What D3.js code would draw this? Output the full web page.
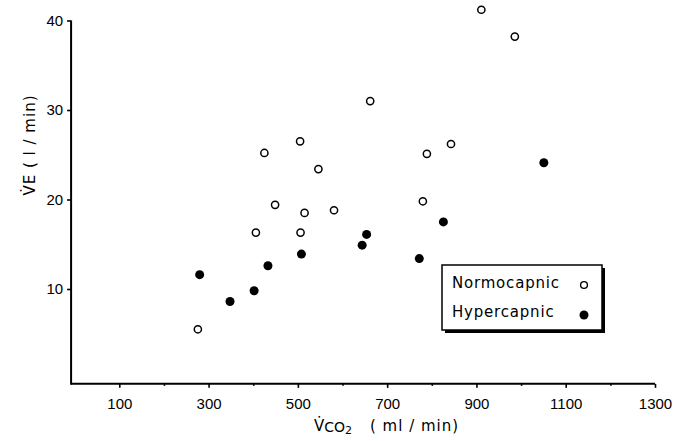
<!DOCTYPE html>
<html>
<head>
<meta charset="utf-8">
<script src="https://cdn.jsdelivr.net/npm/d3@7"></script>
<style>
  body { margin: 0; background: #fff; }
  svg { display: block; }
  .tick text { font-family: "Liberation Sans", Arial, sans-serif; font-size: 15px; fill: #000; }
  .lbl { font-family: "DejaVu Sans", sans-serif; font-size: 15px; fill: #000; }
</style>
</head>
<body>
<div id="chart"></div>
<script>
// VCO2 (ml/min) and VE (l/min)
var normoVco2 = [662, 505, 425, 546, 449, 515, 581, 406, 506, 276, 780, 911, 986, 843, 789]
var normoVe   = [31.0, 26.5, 25.2, 23.4, 19.4, 18.5, 18.8, 16.3, 16.3, 5.5, 19.8, 41.2, 38.2, 26.2, 25.1]
var hyperVco2 = [654, 644, 508, 433, 280, 402, 348, 826, 772, 1051]
var hyperVe   = [16.1, 14.9, 13.9, 12.6, 11.6, 9.8, 8.6, 17.5, 13.4, 24.1]

var xMajor = [100, 300, 500, 700, 900, 1100, 1300]
var xMinor = [200, 400, 600, 800, 1000, 1200]
var yTicks = [10, 20, 30, 40]

var legendNames = ["Normocapnic", "Hypercapnic"]

var width = 676, height = 441

var svg = d3.select('#chart').append('svg')
    .attr('width', width)
    .attr('height', height)

var x = d3.scaleLinear().domain([100, 1300]).range([119.3, 655])
var y = d3.scaleLinear().domain([0, 40]).range([378.5, 20.5])

var xStart = -8, yStart = -0.6

// axis lines
svg.append('line')
    .attr('x1', x(xStart)).attr('x2', x(1300))
    .attr('y1', y(yStart)).attr('y2', y(yStart))
    .attr('stroke', '#000').attr('stroke-width', 2)
svg.append('line')
    .attr('x1', x(xStart)).attr('x2', x(xStart))
    .attr('y1', y(yStart) + 1).attr('y2', y(40))
    .attr('stroke', '#000').attr('stroke-width', 2)

var xAxis = d3.axisBottom(x).tickValues(xMajor).tickSize(4).tickPadding(10).tickFormat(d3.format('d'))
var xg = svg.append('g')
    .attr('transform', 'translate(0,' + y(yStart) + ')')
    .call(xAxis)
xg.select('.domain').remove()
xg.selectAll('line').attr('stroke-width', 1.6)

var xMinorAxis = d3.axisBottom(x).tickValues(xMinor).tickSize(2).tickFormat('')
var xmg = svg.append('g')
    .attr('transform', 'translate(0,' + y(yStart) + ')')
    .call(xMinorAxis)
xmg.select('.domain').remove()
xmg.selectAll('line').attr('stroke-width', 1.6)

var yAxis = d3.axisLeft(y).tickValues(yTicks).tickSize(4).tickPadding(4)
var yg = svg.append('g')
    .attr('transform', 'translate(' + x(xStart) + ',0)')
    .call(yAxis)
yg.select('.domain').remove()
yg.selectAll('line').attr('stroke-width', 1.6)

// axis titles
var xt = svg.append('text').attr('class', 'lbl')
    .attr('x', 314).attr('y', 431)
xt.append('tspan').text('V\u0307')
xt.append('tspan').attr('dy', 1).attr('font-size', 14).text('CO')
xt.append('tspan').attr('dy', 2).attr('font-size', 11).text('2')
xt.append('tspan').attr('dy', -3).attr('x', 370).attr('letter-spacing', 1).text('( ml / min)')

svg.append('text').attr('class', 'lbl')
    .attr('transform', 'translate(35,145) rotate(-90)')
    .attr('text-anchor', 'middle')
    .attr('letter-spacing', 1)
    .text('V\u0307E  ( l / min)')

// points
var normo = normoVco2.map(function(v, i) { return [v, normoVe[i]] })
var hyper = hyperVco2.map(function(v, i) { return [v, hyperVe[i]] })

svg.append('g').selectAll('circle')
    .data(normo)
    .enter().append('circle')
    .attr('cx', function(d) { return x(d[0]) })
    .attr('cy', function(d) { return y(d[1]) })
    .attr('r', 3.6)
    .attr('fill', '#fff')
    .attr('stroke', '#000')
    .attr('stroke-width', 1.5)

svg.append('g').selectAll('circle')
    .data(hyper)
    .enter().append('circle')
    .attr('cx', function(d) { return x(d[0]) })
    .attr('cy', function(d) { return y(d[1]) })
    .attr('r', 4.5)
    .attr('fill', '#000')

// legend
var lg = svg.append('g')
lg.append('rect')
    .attr('x', 445).attr('y', 268).attr('width', 160).attr('height', 65)
    .attr('fill', '#000')
lg.append('rect')
    .attr('x', 442).attr('y', 265).attr('width', 160).attr('height', 65)
    .attr('fill', '#fff').attr('stroke', '#000').attr('stroke-width', 1.5)

lg.selectAll('text.leg')
    .data(legendNames)
    .enter().append('text')
    .attr('class', 'lbl leg')
    .attr('x', 452)
    .attr('y', function(d, i) { return 288 + i * 29 })
    .attr('letter-spacing', 0.8)
    .text(function(d) { return d })

lg.append('circle')
    .attr('cx', 584).attr('cy', 285).attr('r', 3.4)
    .attr('fill', '#fff').attr('stroke', '#000').attr('stroke-width', 1.4)
lg.append('circle')
    .attr('cx', 584).attr('cy', 315).attr('r', 4.5)
    .attr('fill', '#000')
</script>
</body>
</html>
